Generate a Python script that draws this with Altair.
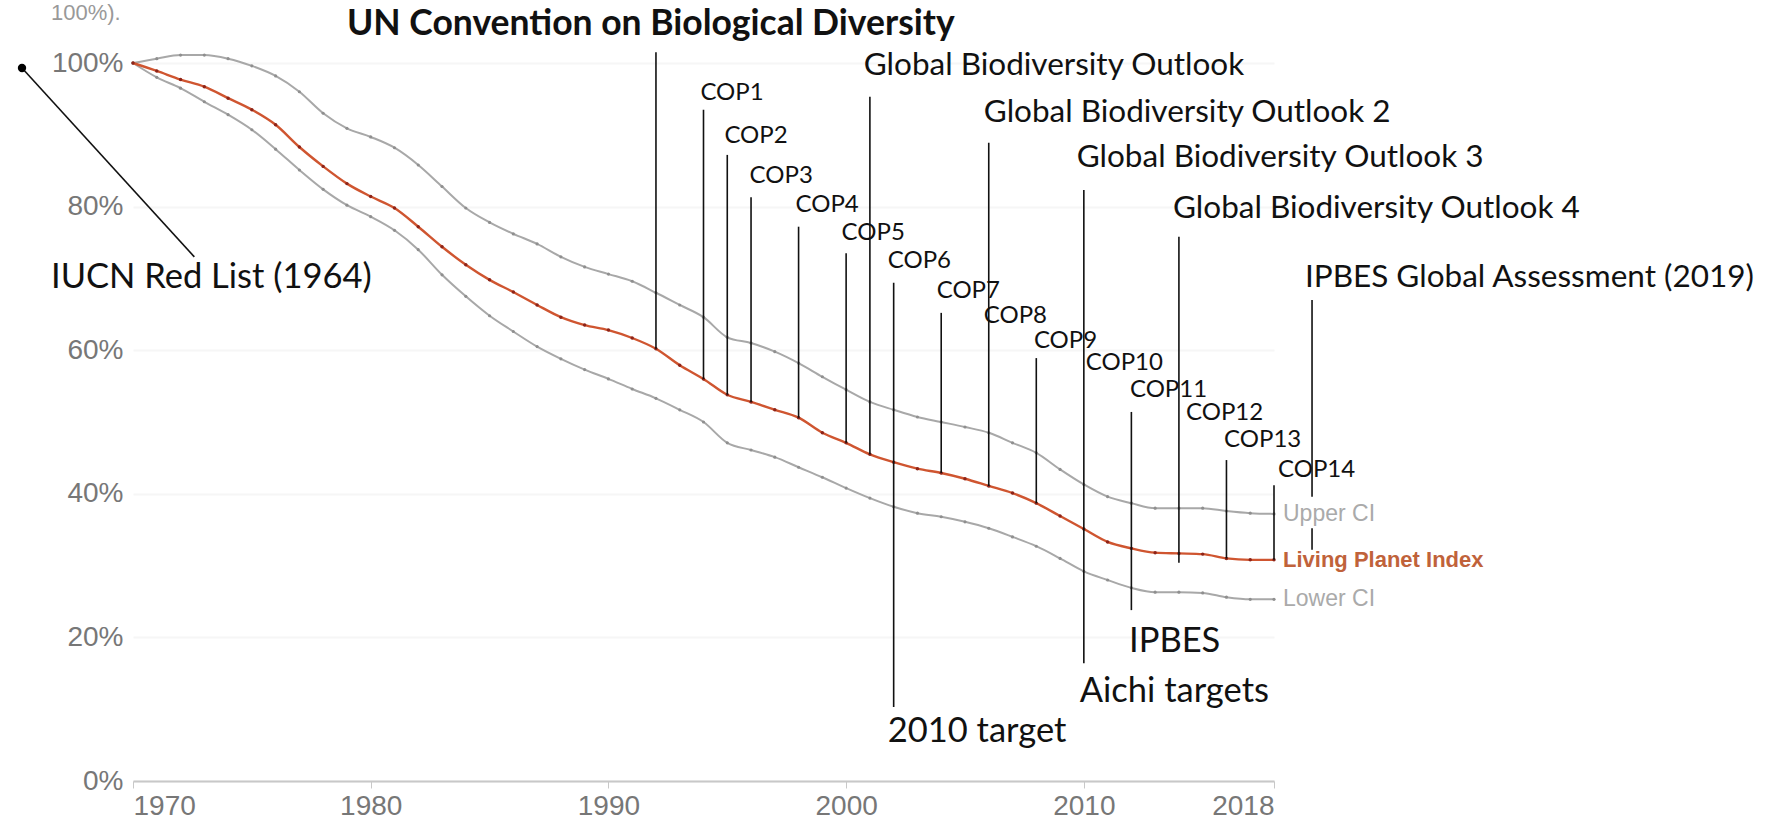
import altair as alt
import pandas as pd

# ---------------- data ----------------
years = list(range(1970, 2019))
lpi = [100, 98.9, 97.7, 96.7, 95.1, 93.5, 91.4, 88.3, 85.6, 83.2,
       81.4, 79.8, 77.2, 74.4, 71.9, 69.8, 68.1, 66.3, 64.6, 63.5,
       62.8, 61.7, 60.2, 57.9, 56.0, 53.8, 52.8, 51.7, 50.6, 48.5,
       47.1, 45.5, 44.4, 43.5, 42.9, 42.1, 41.1, 40.1, 38.7, 36.9,
       35.1, 33.3, 32.4, 31.8, 31.7, 31.6, 31.0, 30.8, 30.8]
upper_ci = [100, 100.6, 101.1, 101.1, 100.6, 99.6, 98.2, 96.0, 93.0, 90.9,
            89.7, 88.2, 85.8, 82.8, 79.8, 77.8, 76.2, 74.8, 73.0, 71.6,
            70.6, 69.6, 68.0, 66.3, 64.6, 61.8, 61.0, 59.8, 58.2, 56.3,
            54.5, 52.8, 51.7, 50.7, 50.0, 49.3, 48.5, 47.1, 45.7, 43.4,
            41.3, 39.6, 38.7, 38.0, 38.0, 38.0, 37.6, 37.3, 37.2]
lower_ci = [100, 98.0, 96.5, 94.6, 92.8, 90.7, 88.0, 85.1, 82.4, 80.2,
            78.6, 76.7, 74.0, 70.5, 67.5, 64.8, 62.6, 60.5, 58.8, 57.3,
            56.0, 54.6, 53.3, 51.7, 50.0, 47.1, 46.1, 45.1, 43.7, 42.3,
            40.8, 39.4, 38.2, 37.3, 36.8, 36.1, 35.2, 34.0, 32.7, 31.0,
            29.2, 28.0, 26.9, 26.3, 26.3, 26.2, 25.6, 25.3, 25.3]

x_ticks = [1970, 1980, 1990, 2000, 2010, 2018]
y_ticks = [0, 20, 40, 60, 80, 100]

# vertical event lines: year, top %, bottom %
line_years = [1992, 1994, 1995, 1996, 1998, 2000, 2001, 2002, 2004, 2006,
              2008, 2010, 2012, 2014, 2016, 2018, 2019.6, 2019.6]
line_tops = [101.5, 93.5, 87.2, 81.3, 77.2, 73.5, 95.3, 69.4, 65.2, 88.9,
             58.9, 82.3, 51.4, 75.8, 44.7, 41.2, 67.0, 35.2]
line_bottoms = [60.2, 56.0, 53.8, 52.8, 50.6, 47.1, 45.5, 10.3, 42.9, 41.1,
                38.7, 16.4, 23.8, 30.4, 31.0, 30.8, 39.6, 32.2]

# COP labels
cop_labels = ["COP1", "COP2", "COP3", "COP4", "COP5", "COP6", "COP7",
              "COP8", "COP9", "COP10", "COP11", "COP12", "COP13", "COP14"]
cop_x = [1993.87, 1994.88, 1995.94, 1997.87, 1999.81, 2001.75, 2003.81,
         2005.79, 2007.9, 2010.08, 2011.94, 2014.3, 2015.9, 2018.17]
cop_y = [94.8, 88.9, 83.3, 79.2, 75.3, 71.4, 67.3,
         63.8, 60.3, 57.2, 53.5, 50.3, 46.5, 42.3]

# Global Biodiversity Outlook labels
gbo_labels = ["Global Biodiversity Outlook", "Global Biodiversity Outlook 2",
              "Global Biodiversity Outlook 3", "Global Biodiversity Outlook 4",
              "IPBES Global Assessment (2019)"]
gbo_x = [2000.74, 2005.79, 2009.7, 2013.75, 2019.3]
gbo_y = [98.3, 91.8, 85.5, 78.4, 68.8]

# large labels
big_labels = ["IUCN Red List (1964)", "2010 target", "Aichi targets", "IPBES"]
big_x = [1966.55, 2001.75, 2009.83, 2011.9]
big_y = [68.7, 5.4, 11.0, 18.0]

title_label = ["UN Convention on Biological Diversity"]
title_x = [1979.0]
title_y = [103.9]

corner_label = ["100%)."]
corner_x = [1966.55]
corner_y = [107.0]

# IUCN pointer (dot and connector)
iucn_x = [1965.33]
iucn_y = [99.3]
iucn_x2 = [1972.58]
iucn_y2 = [73.0]

series_names = ["Upper CI", "Living Planet Index", "Lower CI"]

# ---------------- frames ----------------
lpi_df = pd.DataFrame({"year": years, "v": lpi})
up_df = pd.DataFrame({"year": years, "v": upper_ci})
lo_df = pd.DataFrame({"year": years, "v": lower_ci})
lines_df = pd.DataFrame({"year": line_years, "top": line_tops, "bot": line_bottoms})
cop_df = pd.DataFrame({"t": cop_labels, "x": cop_x, "y": cop_y})
gbo_df = pd.DataFrame({"t": gbo_labels, "x": gbo_x, "y": gbo_y})
big_df = pd.DataFrame({"t": big_labels, "x": big_x, "y": big_y})
title_df = pd.DataFrame({"t": title_label, "x": title_x, "y": title_y})
corner_df = pd.DataFrame({"t": corner_label, "x": corner_x, "y": corner_y})
iucn_df = pd.DataFrame({"x": iucn_x, "y": iucn_y, "x2": iucn_x2, "y2": iucn_y2})
end_df = pd.DataFrame({"t": series_names, "x": [2018] * 3,
                       "y": [upper_ci[-1], lpi[-1], lower_ci[-1]]})

X = alt.Scale(domain=[1970, 2018], nice=False, zero=False)
Y = alt.Scale(domain=[0, 100], nice=False, zero=False)

ANN_FONT = "Lato"
AX_FONT = "Liberation Sans"

base_x = alt.X("year:Q", scale=X,
               axis=alt.Axis(values=x_ticks, format="d", labelFlush=True, title=None,
                             labelFont=AX_FONT, labelFontSize=28, labelColor="#777777",
                             domainColor="#c8c8c8", domainWidth=2, tickColor="#c8c8c8",
                             tickSize=7, labelPadding=4, grid=False))
base_y = alt.Y("v:Q", scale=Y,
               axis=alt.Axis(values=y_ticks, labelExpr="datum.value + '%'", title=None,
                             labelFont=AX_FONT, labelFontSize=28, labelColor="#777777",
                             domain=False, ticks=False, labelPadding=10,
                             grid=True, gridColor="#f6f6f6", gridWidth=2))

ci_color = "#a8a8a8"
up_line = alt.Chart(up_df).mark_line(color=ci_color, strokeWidth=2, interpolate="monotone").encode(x=base_x, y=base_y)
up_pts = alt.Chart(up_df).mark_circle(color="#8f8f8f", size=10, opacity=1).encode(x="year:Q", y="v:Q")
lo_line = alt.Chart(lo_df).mark_line(color=ci_color, strokeWidth=2, interpolate="monotone").encode(x="year:Q", y="v:Q")
lo_pts = alt.Chart(lo_df).mark_circle(color="#8f8f8f", size=10, opacity=1).encode(x="year:Q", y="v:Q")
lpi_line = alt.Chart(lpi_df).mark_line(color="#cf5530", strokeWidth=2.4, interpolate="monotone").encode(x="year:Q", y="v:Q")
lpi_pts = alt.Chart(lpi_df).mark_circle(color="#8e2418", size=12, opacity=1).encode(x="year:Q", y="v:Q")

vlines = alt.Chart(lines_df).mark_rule(color="#111111", strokeWidth=1.6).encode(
    x="year:Q", y="top:Q", y2="bot:Q")

iucn_rule = alt.Chart(iucn_df).mark_rule(color="#111111", strokeWidth=1.6).encode(
    x="x:Q", y="y:Q", x2="x2:Q", y2="y2:Q")
iucn_dot = alt.Chart(iucn_df).mark_circle(color="#000000", size=70, opacity=1).encode(x="x:Q", y="y:Q")


def labels(df, size, weight="normal", font=ANN_FONT, color="#111111"):
    return alt.Chart(df).mark_text(align="left", baseline="alphabetic", font=font,
                                   fontSize=size, fontWeight=weight, color=color).encode(
        x="x:Q", y="y:Q", text="t:N")


cop_text = labels(cop_df, 24)
gbo_text = labels(gbo_df, 31.5)
big_text = labels(big_df, 34.5)
title_text = labels(title_df, 35.5, weight="bold")
corner_text = alt.Chart(corner_df).mark_text(align="left", baseline="middle", font=AX_FONT,
                                             fontSize=22, color="#999999").encode(
    x="x:Q", y="y:Q", text="t:N")

end_colors = alt.Color("t:N", scale=alt.Scale(domain=series_names,
                                              range=["#aaaaaa", "#c0623a", "#aaaaaa"]), legend=None)
end_text_norm = alt.Chart(end_df[end_df.t != "Living Planet Index"]).mark_text(
    align="left", baseline="middle", dx=9, font=AX_FONT, fontSize=23).encode(
    x="x:Q", y="y:Q", text="t:N", color=end_colors)
end_text_bold = alt.Chart(end_df[end_df.t == "Living Planet Index"]).mark_text(
    align="left", baseline="middle", dx=9, font=AX_FONT, fontSize=22, fontWeight="bold").encode(
    x="x:Q", y="y:Q", text="t:N", color=end_colors)

chart = alt.layer(
    up_line, lo_line, up_pts, lo_pts, lpi_line, lpi_pts,
    vlines, iucn_rule, iucn_dot,
    cop_text, gbo_text, big_text, title_text, corner_text,
    end_text_norm, end_text_bold,
).properties(
    width=1141, height=718,
    autosize=alt.AutoSizeParams(type="none"),
    padding={"left": 133, "top": 63, "right": 491, "bottom": 43},
    background="white",
).configure_view(stroke=None)

chart.save("out.html", embed_options={"renderer": "svg", "actions": False})
